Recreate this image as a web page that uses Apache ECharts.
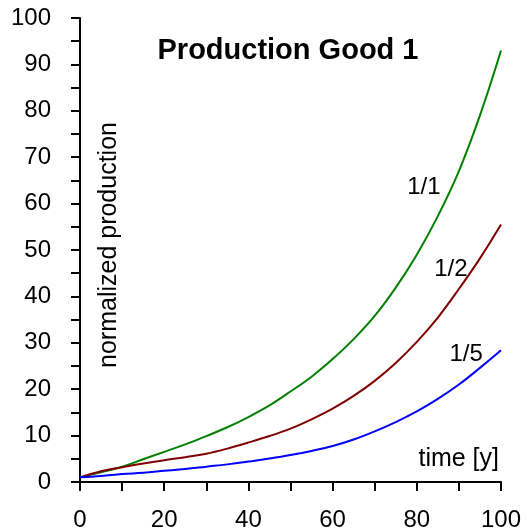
<!DOCTYPE html>
<html>
<head>
<meta charset="utf-8">
<script src="https://cdn.jsdelivr.net/npm/echarts@6/dist/echarts.min.js"></script>
<style>html,body{margin:0;padding:0;background:#fff;}#chart{width:527px;height:532px;}</style>
</head>
<body>
<div id="chart"></div>
<script>
var years = [0,5,10,15,20,25,30,35,40,45,50,55,60,65,70,75,80,85,90,95,100];
var prod11 = [1.0,2.1,3.3,4.9,6.5,8.1,9.9,11.8,14.0,16.5,19.5,22.7,26.5,30.8,35.8,41.9,49.0,57.3,67.0,79.0,93.0];
var prod12 = [1.0,2.3,3.2,4.0,4.7,5.35,6.1,7.2,8.5,9.9,11.5,13.5,15.8,18.55,21.8,25.65,30.2,35.45,41.6,48.2,55.5];
var prod15 = [1.0,1.3,1.7,2.0,2.4,2.8,3.3,3.8,4.4,5.05,5.8,6.7,7.75,9.15,10.9,12.9,15.2,17.9,21.0,24.6,28.4];
var seriesNames = ['1/1','1/2','1/5'];
var labelPos = [[81.7,63.6],[88.1,45.9],[91.7,27.6]];
var colors = ['#008000','#800000','#0000ff'];
var xTicks = {min:0,max:100,interval:20};
var yTicks = {min:0,max:100,interval:10};

var FONT = '"Liberation Sans", Arial, Helvetica, sans-serif';
function pairs(v){ return years.map(function(t,i){ return [t, v[i]]; }); }
var allData = [prod11, prod12, prod15];

var chart = echarts.init(document.getElementById('chart'), null, {renderer:'canvas'});
var axisCommon = {
  type:'value',
  axisLine:{show:true, lineStyle:{color:'#000', width:2}},
  axisTick:{show:true, length:9, lineStyle:{color:'#000', width:2}},
  minorTick:{show:true, splitNumber:2, length:9, lineStyle:{color:'#000', width:2}},
  splitLine:{show:false},
  axisLabel:{color:'#000', fontSize:24, fontFamily:FONT}
};
chart.setOption({
  animation:false,
  backgroundColor:'#fff',
  grid:{left:80, right:26, top:18, bottom:50, containLabel:false},
  xAxis: echarts.util.merge({
    min:xTicks.min, max:xTicks.max, interval:xTicks.interval,
    axisLabel:{margin:26}
  }, axisCommon),
  yAxis: echarts.util.merge({
    min:yTicks.min, max:yTicks.max, interval:yTicks.interval,
    axisLabel:{margin:29}
  }, axisCommon),
  series: allData.map(function(d,i){
    return {
      type:'line', name:seriesNames[i], data:pairs(d), smooth:0.4, showSymbol:false,
      lineStyle:{color:colors[i], width:2},
      markPoint:{
        symbol:'circle', symbolSize:0, silent:true,
        label:{show:true, position:'inside', formatter:seriesNames[i], color:'#000', fontSize:24, fontFamily:FONT},
        data:[{coord:labelPos[i], value:seriesNames[i]}]
      }
    };
  }),
  graphic:[
    {type:'text', x:288, y:51, style:{text:'Production Good 1', fill:'#000', font:'bold 29px '+FONT, textAlign:'center', textVerticalAlign:'middle'}},
    {type:'text', x:109, y:245, rotation:Math.PI/2, style:{text:'normalized production', fill:'#000', font:'25px '+FONT, textAlign:'center', textVerticalAlign:'middle'}},
    {type:'text', x:499, y:459, style:{text:'time [y]', fill:'#000', font:'25px '+FONT, textAlign:'right', textVerticalAlign:'middle'}}
  ]
});
</script>
</body>
</html>
